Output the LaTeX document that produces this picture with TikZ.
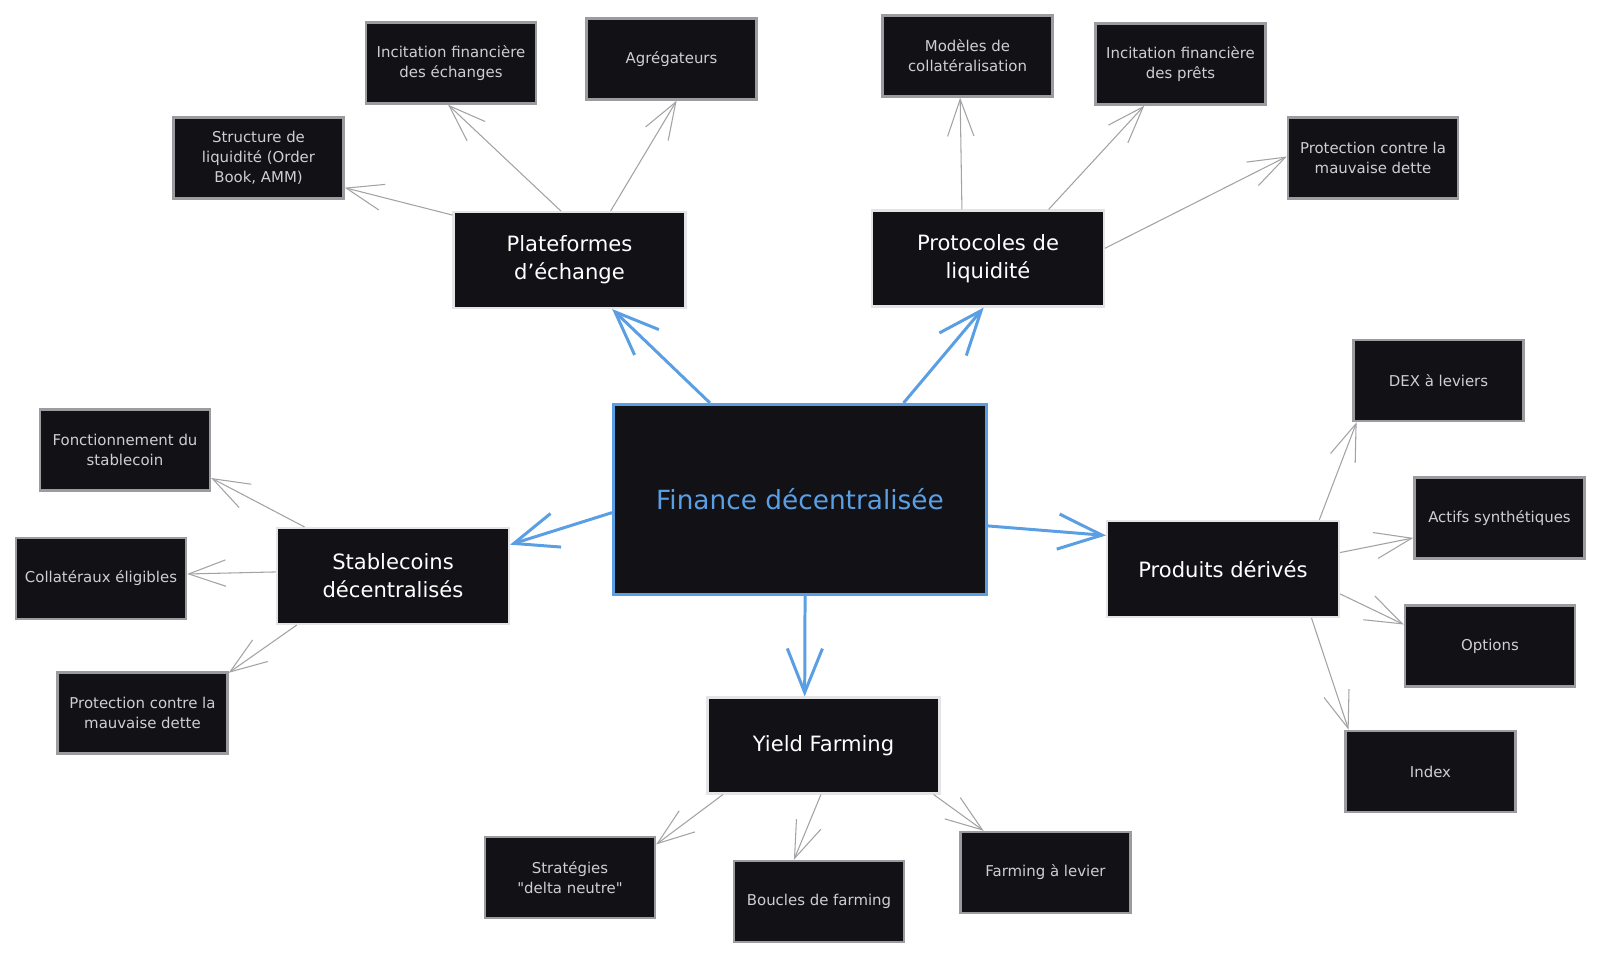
\documentclass[tikz,border=0pt]{standalone}
\usepackage{fontspec}
\setmainfont{DejaVu Sans}
\newfontfamily\plainquote{DejaVu Sans}
\usetikzlibrary{arrows.meta}
\definecolor{boxFill}{HTML}{121116}
\definecolor{leafBorder}{HTML}{9B9BA0}
\definecolor{topicBorder}{HTML}{E4E4E6}
\definecolor{defiBlue}{HTML}{5A9FE4}
\definecolor{leafText}{HTML}{CFCFD2}
\definecolor{linkGray}{HTML}{A3A3A6}
\tikzset{
    leaf/.style={rectangle,draw=leafBorder,line width=1.4pt,fill=boxFill,text=leafText,minimum width=3.4cm,minimum height=1.62cm,align=center,font=\fontsize{8.5}{11.5}\selectfont},
    topic/.style={rectangle,draw=topicBorder,line width=1.2pt,fill=boxFill,text=white,minimum width=4.64cm,minimum height=1.92cm,align=center,font=\fontsize{12}{16}\selectfont},
    hub/.style={rectangle,draw=defiBlue,line width=1.8pt,fill=boxFill,text=defiBlue,minimum width=7.46cm,minimum height=3.8cm,font=\fontsize{15}{18}\selectfont},
    leaflink/.style={draw=linkGray,line width=0.6pt,-{Straight Barb[length=21pt,width=15pt]}},
    hublink/.style={draw=defiBlue,line width=1.7pt,-{Straight Barb[length=25pt,width=20pt]}}
}

\begin{document}
\begin{tikzpicture}[x=0.02cm,y=-0.02cm]
  \fill[white] (0,0) rectangle (1600,958);
  \useasboundingbox (0,0) rectangle (1600,958);

  % centre
  \node[hub] (defi) at (800,499.5) {Finance décentralisée};

  % branches
  \node[topic] (plat) at (569.5,260) {Plateformes\\d'échange};
  \node[topic] (proto) at (988,258.5) {Protocoles de\\liquidité};
  \node[topic] (stable) at (393,576) {Stablecoins\\décentralisés};
  \node[topic] (deriv) at (1223,569) {Produits dérivés};
  \node[topic] (yield) at (823.5,745.5) {Yield Farming};

  % feuilles
  \node[leaf] (struct) at (258.5,158) {Structure de\\liquidité (Order\\Book, AMM)};
  \node[leaf] (incEch) at (451,63) {Incitation financière\\des échanges};
  \node[leaf] (agreg) at (671.5,59) {Agrégateurs};
  \node[leaf] (modeles) at (967.5,56) {Modèles de\\collatéralisation};
  \node[leaf] (incPret) at (1180.5,64) {Incitation financière\\des prêts};
  \node[leaf] (protTop) at (1373,158) {Protection contre la\\mauvaise dette};
  \node[leaf] (fonct) at (125,450) {Fonctionnement du\\stablecoin};
  \node[leaf] (collat) at (101,578.5) {Collatéraux éligibles};
  \node[leaf] (protLeft) at (142.5,713) {Protection contre la\\mauvaise dette};
  \node[leaf] (dex) at (1438.5,380.5) {DEX à leviers};
  \node[leaf] (actifs) at (1499.5,518) {Actifs synthétiques};
  \node[leaf] (options) at (1490,646) {Options};
  \node[leaf] (index) at (1430.5,771.5) {Index};
  \node[leaf] (strat) at (570,877.5) {Stratégies\\{\plainquote"}delta neutre{\plainquote"}};
  \node[leaf] (boucles) at (819,901.5) {Boucles de farming};
  \node[leaf] (farmLev) at (1045.5,872.5) {Farming à levier};

  % liens du centre
  \draw[hublink] (defi.133) -- (plat.-49);
  \draw[hublink] (defi.43) -- (proto.265);
  \draw[hublink] (defi.184) -- (stable.15);
  \draw[hublink] (defi.-8) -- (deriv.164);
  \draw[hublink] (defi.-87) -- (yield.111);

  % liens secondaires
  \draw[leaflink] (plat.159) -- (struct.-19);
  \draw[leaflink] (plat.100) -- (incEch.266);
  \draw[leaflink] (plat.50) -- (agreg.-83);
  \draw[leaflink] (proto.118) -- (modeles.260);
  \draw[leaflink] (proto.39) -- (incPret.229);
  \draw[leaflink] (proto.5) -- (protTop.179);
  \draw[leaflink] (stable.151) -- (fonct.-18);
  \draw[leaflink] (stable.178) -- (collat.3);
  \draw[leaflink] (stable.207) -- (protLeft.25);
  \draw[leaflink] (deriv.27) -- (dex.207);
  \draw[leaflink] (deriv.8) -- (actifs.193);
  \draw[leaflink] (deriv.-12) -- (options.166);
  \draw[leaflink] (deriv.-29) -- (index.153);
  \draw[leaflink] (yield.206) -- (strat.21);
  \draw[leaflink] (yield.267) -- (boucles.121);
  \draw[leaflink] (yield.-24) -- (farmLev.146);
\end{tikzpicture}
\end{document}
